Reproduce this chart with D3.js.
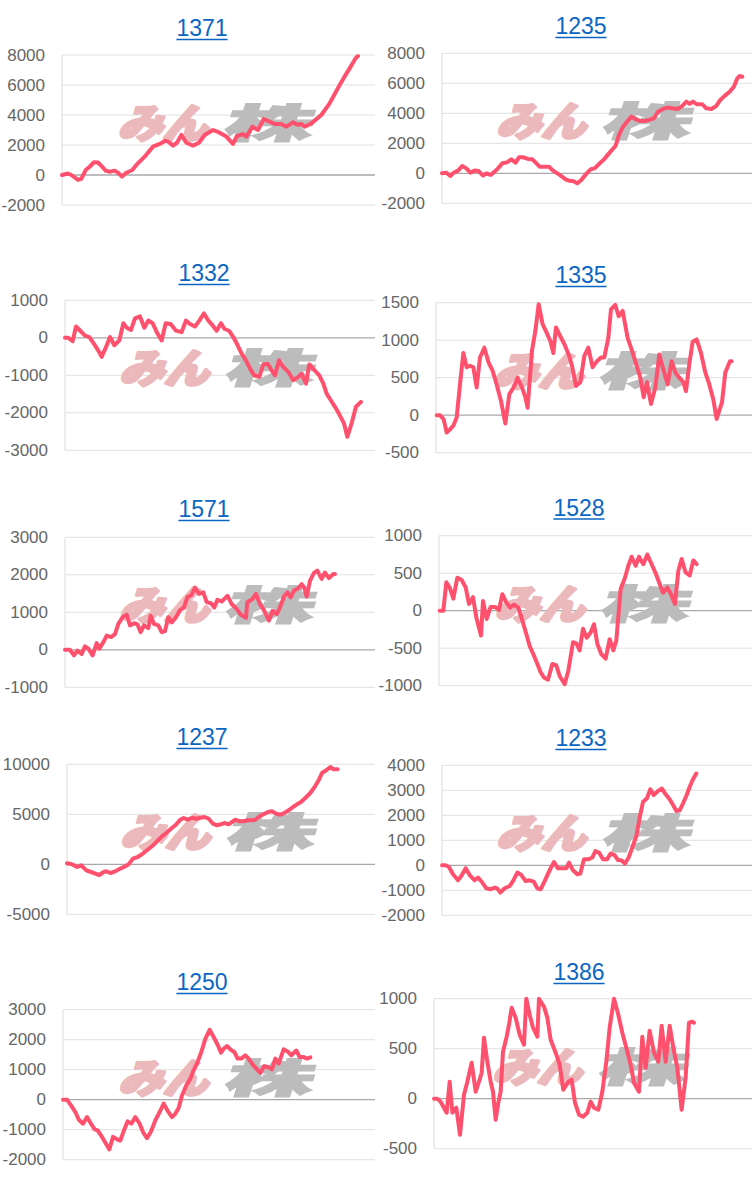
<!DOCTYPE html>
<html><head><meta charset="utf-8">
<script src="https://cdn.jsdelivr.net/npm/d3@7"></script>
<style>body{margin:0;background:#fff}svg{display:block}</style>
</head><body>
<svg id="c" width="752" height="1183"></svg>
<script>
const titles = ["1371","1235","1332","1335","1571","1528","1237","1233","1250","1386"];

const ticks1371 = [-2000,0,2000,4000,6000,8000];
const ticks1235 = [-2000,0,2000,4000,6000,8000];
const ticks1332 = [-3000,-2000,-1000,0,1000];
const ticks1335 = [-500,0,500,1000,1500];
const ticks1571 = [-1000,0,1000,2000,3000];
const ticks1528 = [-1000,-500,0,500,1000];
const ticks1237 = [-5000,0,5000,10000];
const ticks1233 = [-2000,-1000,0,1000,2000,3000,4000];
const ticks1250 = [-2000,-1000,0,1000,2000,3000];
const ticks1386 = [-500,0,500,1000];

// [time unit, value]
const s1371 = [[0,0],[1.8,100],[2.8,0],[4.8,-330],[5.8,-250],[7.1,330],[8.3,550],[9.6,850],[10.8,830],[11.8,620],[13.1,290],[14.3,220],[15.8,290],[16.8,150],[18.0,-100],[19.3,150],[21.1,330],[22.3,670],[24.8,1220],[27.3,1890],[29.3,2070],[31.0,2290],[31.8,2230],[33.3,1960],[34.5,2150],[35.8,2670],[37.3,2150],[39.3,1960],[41.1,2150],[42.8,2670],[45.3,3000],[47.3,2820],[49.3,2560],[51.3,2070],[52.5,2600],[54.3,2730],[55.3,2560],[57.1,3220],[58.8,3000],[60.5,3730],[62.3,3560],[63.8,3400],[65.8,3400],[67.3,3220],[69.3,3510],[70.6,3350],[71.8,3400],[72.8,3220],[74.8,3440],[77.8,4000],[80.3,4780],[83.3,6000],[84.8,6560],[86.3,7110],[88.1,7780],[88.8,7930]];
const s1235 = [[0,0],[1.3,40],[2.5,-180],[3.5,40],[4.8,180],[6.1,490],[7.3,330],[8.5,40],[9.8,180],[11.0,150],[12.3,-150],[13.3,0],[14.6,-110],[15.8,110],[16.8,330],[18.1,670],[19.5,730],[20.8,930],[22.1,710],[23.1,1070],[24.3,1070],[25.8,960],[27.1,930],[28.1,710],[29.3,440],[30.8,440],[32.1,440],[33.3,180],[35.3,-110],[37.1,-400],[38.1,-490],[39.3,-510],[40.6,-670],[41.8,-440],[43.3,-40],[44.6,270],[45.8,330],[47.1,620],[48.6,930],[50.1,1330],[52.1,1840],[53.1,2560],[54.3,3110],[55.5,3440],[56.8,3780],[58.1,3600],[59.3,3490],[60.8,3490],[62.1,3560],[63.6,3670],[64.8,4110],[66.3,4290],[67.6,4380],[69.1,4330],[70.8,4290],[72.1,4490],[73.3,4780],[74.3,4620],[75.3,4780],[76.5,4600],[78.1,4600],[79.3,4330],[80.8,4290],[82.3,4490],[83.5,4890],[84.8,5160],[86.3,5440],[87.6,5780],[88.6,6330],[89.3,6490],[90.1,6440]];
const s1332 = [[0,0],[1.0,0],[2.3,-90],[3.3,300],[4.5,195],[6.0,60],[7.3,20],[8.7,-160],[10.0,-340],[11.0,-510],[12.3,-250],[13.5,20],[14.8,-200],[16.3,-70],[17.5,390],[18.5,270],[19.8,210],[21.0,520],[22.5,570],[23.8,270],[25.0,460],[26.3,390],[27.7,120],[29.0,-70],[30.2,390],[31.7,370],[33.3,190],[35.0,150],[36.3,460],[37.5,370],[39.0,300],[40.3,460],[41.7,650],[43.0,460],[44.3,330],[45.5,190],[46.8,390],[47.8,240],[49.3,180],[50.5,20],[51.8,-200],[53.0,-420],[54.3,-600],[55.5,-820],[56.7,-1000],[58.3,-1040],[59.5,-710],[60.8,-690],[62.0,-870],[63.0,-1000],[64.2,-600],[65.5,-780],[67.0,-910],[68.5,-1130],[70.0,-1040],[71.0,-960],[72.3,-1220],[73.3,-710],[74.7,-850],[76.3,-1000],[77.5,-1220],[78.5,-1490],[79.7,-1660],[81.0,-1840],[82.3,-2040],[83.7,-2280],[84.7,-2640],[86.0,-2280],[87.3,-1840],[88.8,-1710]];
const s1335 = [[0.2,0],[1.2,0],[2.3,-55],[3.2,-230],[4.2,-190],[5.2,-140],[6.2,-30],[7.2,410],[8.2,830],[9.2,640],[10.2,660],[11.2,640],[12.2,370],[13.2,770],[14.5,900],[15.8,700],[17.0,590],[18.2,410],[19.5,190],[20.8,-110],[22.0,280],[23.3,370],[24.5,500],[25.8,370],[26.8,240],[27.5,100],[28.8,860],[29.8,1120],[30.8,1480],[32.0,1210],[33.2,1100],[34.3,990],[35.2,830],[36.0,1170],[37.2,1060],[38.5,950],[39.8,810],[40.8,660],[42.0,390],[43.3,440],[44.5,790],[45.7,900],[47.0,640],[48.3,720],[49.5,770],[50.5,770],[51.7,1030],[52.5,1410],[53.8,1470],[54.8,1320],[56.0,1390],[57.5,1030],[58.8,860],[60.2,660],[61.3,500],[62.3,240],[63.3,440],[64.5,150],[65.8,370],[67.0,810],[68.2,610],[69.5,410],[70.7,720],[71.8,570],[73.0,500],[74.2,440],[75.0,320],[76.0,680],[77.0,980],[78.2,1010],[79.5,830],[80.8,570],[82.0,410],[83.2,210],[84.2,-50],[85.8,170],[86.8,570],[88.2,720],[88.7,720]];
const s1571 = [[0,0],[1.5,0],[2.7,-150],[3.7,-20],[5.0,-110],[6.0,90],[7.0,30],[8.3,-150],[9.5,180],[10.3,30],[11.5,200],[12.5,380],[13.8,340],[15.0,420],[16.0,690],[17.3,870],[18.5,940],[19.5,650],[20.7,710],[21.8,670],[22.7,470],[23.7,650],[25.0,580],[25.7,910],[26.7,690],[28.0,650],[29.0,470],[30.0,500],[31.0,870],[32.0,730],[33.3,870],[34.5,1060],[35.7,1130],[36.7,1400],[38.0,1470],[39.0,1660],[40.2,1490],[41.5,1530],[42.5,1270],[43.8,1240],[44.8,1130],[45.7,1330],[47.0,1290],[48.8,1440],[50.0,1220],[51.5,1090],[52.7,940],[54.3,850],[54.7,1270],[56.2,1350],[57.3,1490],[58.5,1220],[59.8,1040],[61.2,780],[62.3,1040],[63.5,950],[64.5,1130],[65.7,1420],[66.7,1530],[67.7,1400],[68.7,1580],[70.0,1640],[71.0,1750],[71.8,1660],[72.5,1420],[73.5,1840],[74.7,2050],[75.7,2110],[77.0,1890],[78.0,2060],[79.2,1910],[80.5,2020],[81.0,2020]];
const s1528 = [[0.2,0],[1.3,0],[2.2,380],[3.2,310],[4.3,160],[5.5,440],[6.8,410],[8.0,310],[9.0,90],[10.2,180],[11.2,-90],[12.6,-330],[13.2,130],[14.3,-110],[15.5,50],[16.8,50],[18.0,10],[19.0,220],[20.2,110],[21.3,40],[22.5,80],[23.8,40],[25.0,-130],[26.2,-310],[27.2,-470],[28.5,-600],[29.7,-730],[30.5,-820],[31.5,-890],[32.7,-920],[34.0,-710],[35.2,-730],[36.2,-870],[37.7,-980],[38.8,-800],[40.2,-420],[41.3,-440],[42.2,-530],[43.2,-240],[44.3,-360],[45.5,-290],[46.5,-180],[47.5,-440],[48.7,-580],[50.0,-640],[51.2,-380],[52.3,-530],[53.2,-400],[54.5,290],[55.8,440],[56.8,600],[57.8,720],[59.0,600],[60.0,720],[61.3,620],[62.5,750],[63.7,630],[65.0,500],[66.2,360],[67.2,240],[68.5,310],[69.5,230],[70.8,90],[71.8,530],[72.8,690],[74.0,510],[75.2,470],[76.3,670],[77.3,620]];
const s1237 = [[0,100],[1.5,0],[3.0,-270],[4.3,-100],[5.8,-600],[7.2,-770],[8.5,-930],[9.7,-1070],[11.0,-770],[11.8,-700],[13.0,-870],[14.5,-700],[16.0,-430],[17.5,-200],[18.5,0],[19.8,570],[21.2,730],[22.5,1000],[24.0,1400],[25.5,1800],[27.0,2300],[28.5,2800],[29.8,3130],[31.2,3560],[32.5,3900],[34.0,4460],[35.0,4630],[36.2,4460],[37.5,4660],[38.8,4560],[40.0,4660],[41.2,4730],[42.5,4560],[43.8,4060],[45.0,3900],[46.2,4000],[47.2,4130],[48.5,4000],[49.5,4230],[50.5,4460],[51.8,4300],[53.0,4300],[54.2,4400],[55.5,4400],[56.5,4460],[57.8,4800],[59.0,5000],[60.3,5230],[61.5,5300],[62.8,5060],[64.0,4960],[65.2,5130],[66.5,5400],[67.8,5730],[69.0,6000],[70.2,6230],[71.5,6630],[73.0,7130],[74.3,7730],[75.5,8400],[76.5,9130],[77.8,9400],[79.0,9730],[80.0,9500],[81.2,9500]];
const s1233 = [[0,0],[1.1,0],[2.1,-70],[3.3,-360],[4.8,-600],[5.8,-430],[7.1,-120],[8.3,-390],[9.8,-600],[10.8,-490],[12.1,-690],[13.3,-920],[14.5,-960],[15.8,-890],[16.5,-920],[17.5,-1090],[18.8,-920],[20.3,-830],[21.3,-630],[22.6,-290],[23.8,-390],[25.1,-630],[26.3,-600],[27.5,-650],[28.6,-920],[29.6,-960],[30.8,-630],[32.1,-250],[33.6,130],[34.8,-120],[36.1,-120],[37.3,-120],[38.1,110],[39.3,-200],[40.6,-360],[41.5,-330],[42.6,240],[44.0,240],[45.1,310],[46.0,570],[47.1,510],[48.3,240],[49.5,240],[50.6,470],[51.8,410],[52.8,210],[53.8,200],[54.9,70],[56.0,310],[57.1,710],[58.3,1170],[59.3,1910],[60.3,2530],[61.5,2680],[62.5,3040],[63.5,2810],[64.8,2970],[66.0,3070],[67.1,2840],[68.3,2640],[69.5,2370],[70.3,2170],[71.3,2200],[72.3,2470],[73.3,2770],[74.3,3130],[75.3,3440],[76.3,3670]];
const s1250 = [[0,0],[1.2,0],[2.4,-190],[3.7,-410],[4.7,-660],[6.0,-800],[7.2,-580],[8.4,-800],[9.5,-990],[10.4,-1020],[11.7,-1240],[12.9,-1470],[13.9,-1660],[15.0,-1240],[16.2,-1320],[17.2,-1360],[18.4,-990],[19.4,-720],[20.5,-800],[21.7,-580],[23.0,-800],[24.0,-1080],[25.2,-1280],[26.4,-1060],[27.7,-690],[29.0,-410],[30.2,-130],[31.5,-390],[32.7,-580],[33.7,-470],[34.7,-280],[35.7,140],[37.0,480],[38.2,700],[39.2,980],[40.4,1260],[41.5,1590],[42.7,2030],[44.0,2330],[45.2,2090],[46.4,1830],[47.4,1570],[48.4,1720],[49.2,1790],[50.2,1680],[51.4,1590],[52.4,1370],[53.5,1370],[54.7,1480],[55.7,1370],[56.9,1170],[58.2,1010],[59.2,890],[60.4,1120],[61.5,1090],[62.7,1010],[63.7,1370],[64.7,1200],[66.2,1680],[67.4,1610],[68.5,1480],[70.0,1640],[71.0,1420],[72.2,1420],[73.2,1370],[74.2,1410]];
const s1386 = [[0,0],[1.0,0],[2.0,-30],[3.3,-110],[3.8,-140],[4.7,170],[5.5,-140],[6.7,-90],[7.8,-360],[9.0,40],[10.0,170],[11.3,360],[12.5,70],[13.5,170],[14.3,260],[15.0,610],[16.0,370],[17.0,170],[17.7,70],[18.5,-210],[19.3,-40],[20.0,70],[20.7,470],[21.8,620],[22.5,740],[23.3,910],[24.5,810],[25.7,640],[27.0,540],[27.7,1000],[28.7,840],[29.7,710],[31.0,620],[31.5,1000],[33.0,920],[34.0,810],[35.0,590],[36.5,460],[37.7,340],[38.8,90],[40.3,170],[41.3,190],[42.3,-40],[43.5,-160],[44.7,-180],[46.0,-140],[47.0,-30],[48.0,-90],[49.3,-110],[50.5,70],[51.7,370],[52.7,710],[54.0,1000],[55.3,840],[56.5,660],[57.7,510],[59.0,340],[60.0,160],[61.5,70],[62.5,620],[63.5,310],[64.7,680],[66.0,460],[67.3,370],[68.3,730],[69.5,370],[70.7,730],[71.8,510],[73.0,310],[74.3,-110],[75.5,210],[76.5,760],[77.5,770],[78.0,760]];

const tickSets = [ticks1371,ticks1235,ticks1332,ticks1335,ticks1571,ticks1528,ticks1237,ticks1233,ticks1250,ticks1386];
const seriesSets = [s1371,s1235,s1332,s1335,s1571,s1528,s1237,s1233,s1250,s1386];

// layout (pixels)
const layout = [
  {left:62,  right:375, top:55,   tx:202, ty:36},
  {left:442, right:752, top:53.3, tx:581, ty:34},
  {left:65,  right:375, top:300.3,tx:204, ty:281},
  {left:436, right:752, top:302.7,tx:581, ty:283},
  {left:65,  right:375, top:537.3,tx:204, ty:517},
  {left:439, right:752, top:535.7,tx:579, ty:515.5},
  {left:67,  right:375, top:764.3,tx:202, ty:745},
  {left:442, right:752, top:765.3,tx:581, ty:746},
  {left:63,  right:375, top:1009.7,tx:202, ty:990},
  {left:434, right:752, top:998.7,tx:579, ty:980}
];
const plotH = 150;
const tSpan = 94, tWidth = 313.3;

const svg = d3.select("#c");

titles.forEach((title, i) => {
  const L = layout[i];
  const ticks = tickSets[i];
  const data = seriesSets[i];
  const g = svg.append("g");

  const y = d3.scaleLinear().domain(d3.extent(ticks)).range([L.top + plotH, L.top]);
  const x = d3.scaleLinear().domain([0, tSpan]).range([L.left, L.left + tWidth]);

  // gridlines
  g.selectAll("line.grid").data(ticks).join("line")
    .attr("x1", L.left).attr("x2", L.right)
    .attr("y1", d => y(d)).attr("y2", d => y(d))
    .attr("stroke", d => d === 0 ? "#a8a8a8" : "#e0e0e0")
    .attr("stroke-width", d => d === 0 ? 1.3 : 1);
  // vertical axis
  g.append("line")
    .attr("x1", L.left).attr("x2", L.left)
    .attr("y1", y(ticks[ticks.length-1])).attr("y2", y(ticks[0]))
    .attr("stroke", "#dcdcdc").attr("stroke-width", 1);

  // tick labels
  g.selectAll("text.tick").data(ticks).join("text")
    .attr("x", L.left - 17).attr("y", d => y(d))
    .attr("text-anchor", "end").attr("dominant-baseline", "central")
    .attr("font-family", "Liberation Sans, Arial, sans-serif")
    .attr("font-size", 17).attr("fill", "#666")
    .text(d => d);

  // watermark
  const cx = (L.left + L.right) / 2 + 2;
  const cy = L.top + plotH / 2 - 6;
  const wm = g.append("g").attr("transform", `translate(${cx},${cy}) skewX(-18)`);
  wm.append("text")
    .attr("transform", "translate(-9,14) scale(1.12,1)")
    .attr("text-anchor", "end")
    .attr("font-family", "Noto Sans CJK JP")
    .attr("font-weight", 900).attr("font-size", 40)
    .attr("fill", "#ebb9bc").attr("stroke", "#ebb9bc").attr("stroke-width", 3)
    .attr("stroke-linejoin", "round")
    .text("みん");
  wm.append("text")
    .attr("transform", "translate(6,14) scale(2.2,1)")
    .attr("text-anchor", "start")
    .attr("font-family", "Noto Sans CJK JP")
    .attr("font-weight", 900).attr("font-size", 40)
    .attr("fill", "#bcbcbc").attr("stroke", "#bcbcbc").attr("stroke-width", 1.5)
    .text("株");

  // line
  const line = d3.line().x(d => x(d[0])).y(d => y(d[1]));
  g.append("path").datum(data)
    .attr("d", line)
    .attr("fill", "none").attr("stroke", "#ff506e")
    .attr("stroke-width", 4).attr("stroke-linejoin", "round").attr("stroke-linecap", "round");

  // title
  const t = g.append("text")
    .attr("x", L.tx).attr("y", L.ty)
    .attr("text-anchor", "middle")
    .attr("font-family", "Liberation Sans, Arial, sans-serif")
    .attr("font-size", 23).attr("fill", "#0b66c3")
    .text(title);
  const bb = t.node().getBBox();
  g.append("line")
    .attr("x1", bb.x).attr("x2", bb.x + bb.width)
    .attr("y1", L.ty + 3.5).attr("y2", L.ty + 3.5)
    .attr("stroke", "#0b66c3").attr("stroke-width", 1.6);
});
</script>
</body></html>
